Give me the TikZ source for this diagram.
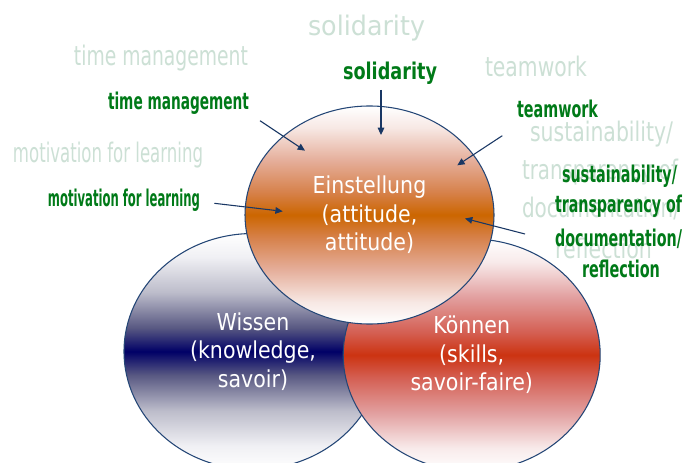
\documentclass[tikz,border=0pt]{standalone}
\usepackage{fontspec}
\setmainfont[FakeStretch=0.88]{DejaVu Sans}
\usetikzlibrary{shapes.geometric,arrows.meta}

% one drawing unit = one pixel of the 691 x 463 sheet
\newlength\pxu
\setlength\pxu{0.75pt}
% set a line of text to a given width (in pixels), keeping its height
\newcommand\fitw[2]{\resizebox{#1\pxu}{\height}{#2}}

\definecolor{rim}{RGB}{36,70,118}
\definecolor{arrowblue}{RGB}{25,55,100}
\definecolor{leafgreen}{RGB}{0,122,24}
\definecolor{ghost}{RGB}{204,224,213}

% attitude: white - salmon - orange - salmon - white
\definecolor{att1}{RGB}{247,232,228}
\definecolor{att2}{RGB}{229,174,154}
\definecolor{att3}{RGB}{214,128,72}
\definecolor{att4}{RGB}{204,102,0}
% knowledge: white - grey - navy - grey - white
\definecolor{kn1}{RGB}{240,240,244}
\definecolor{kn2}{RGB}{188,188,202}
\definecolor{kn3}{RGB}{88,88,130}
\definecolor{kn4}{RGB}{0,0,102}
% skills: white - pink - red - pink - white
\definecolor{sk1}{RGB}{248,234,234}
\definecolor{sk2}{RGB}{226,160,160}
\definecolor{sk3}{RGB}{212,96,84}
\definecolor{sk4}{RGB}{204,51,17}

\pgfdeclareverticalshading{attband}{100bp}{color(0bp)=(white); color(25bp)=(white);
  color(30bp)=(att1); color(37.5bp)=(att2); color(45bp)=(att3); color(50bp)=(att4);
  color(55bp)=(att3); color(62.5bp)=(att2); color(70bp)=(att1);
  color(75bp)=(white); color(100bp)=(white)}
\pgfdeclareverticalshading{knband}{100bp}{color(0bp)=(white); color(25bp)=(white);
  color(30bp)=(kn1); color(37.5bp)=(kn2); color(45bp)=(kn3); color(50bp)=(kn4);
  color(55bp)=(kn3); color(62.5bp)=(kn2); color(70bp)=(kn1);
  color(75bp)=(white); color(100bp)=(white)}
\pgfdeclareverticalshading{skband}{100bp}{color(0bp)=(white); color(25bp)=(white);
  color(30bp)=(sk1); color(37.5bp)=(sk2); color(45bp)=(sk3); color(50bp)=(sk4);
  color(55bp)=(sk3); color(62.5bp)=(sk2); color(70bp)=(sk1);
  color(75bp)=(white); color(100bp)=(white)}

\tikzset{
  sphere/.style={ellipse, draw=rim, line width=0.8pt, inner sep=0pt,
    text=white, align=center, font=\fontsize{17.5}{21.4}\selectfont},
  leaf/.style={anchor=base, inner sep=0pt, text=leafgreen,
    font=\bfseries\fontsize{17.3}{20}\selectfont},
  ghostword/.style={anchor=base, inner sep=0pt, text=ghost,
    font=\fontsize{20.2}{24}\selectfont},
  pointer/.style={draw=arrowblue, line width=0.8pt,
    -{Triangle[length=5.5pt,width=5pt]}}
}

\begin{document}
\begin{tikzpicture}[x=0.75pt,y=-0.75pt]
\useasboundingbox[fill=white] (0,0) rectangle (691,463);

% pale background words
\node[ghostword] (gSol)  at (366.5,36)  {\fitw{117}{solidarity}};
\node[ghostword] (gTime) at (161,65.7)  {\fitw{174}{time management}};
\node[ghostword] (gMot)  at (108,163)   {\fitw{190}{motivation for learning}};
\node[ghostword] (gTeam) at (536,77)    {\fitw{102}{teamwork}};
\node[ghostword] (gSus)  at (601.5,141.7) {\fitw{143}{sustainability/}};
\node[ghostword] (gTra)  at (600,180)   {\fitw{156}{transparency of}};
\node[ghostword] (gDoc)  at (601,218)   {\fitw{158}{documentation/}};
\node[ghostword] (gRef)  at (603.5,258) {\fitw{97}{reflection}};

% the three overlapping circles
\node[sphere, shading=knband, minimum width=193.5pt, minimum height=177pt]
  (wissen) at (253,351.5) {Wissen\\(knowledge,\\savoir)};
\node[sphere, shading=skband, minimum width=192.75pt, minimum height=174pt]
  (koennen) at (471.7,355) {Können\\(skills,\\savoir-faire)};
\node[sphere, shading=attband, minimum width=186.75pt, minimum height=163.5pt]
  (einst) at (369.5,215) {Einstellung\\(attitude,\\attitude)};

% green labels
\node[leaf] (lSol)  at (390,80)    {\fitw{94}{solidarity}};
\node[leaf] (lTime) at (178.5,110) {\fitw{141}{time management}};
\node[leaf] (lMot)  at (124,207)   {\fitw{152}{motivation for learning}};
\node[leaf] (lTeam) at (557.5,118) {\fitw{81}{teamwork}};
\node[leaf] (lSus)  at (619.5,183) {\fitw{115}{sustainability/}};
\node[leaf] (lTra)  at (618.5,213) {\fitw{127}{transparency of}};
\node[leaf] (lDoc)  at (618.5,246) {\fitw{127}{documentation/}};
\node[leaf] (lRef)  at (621,277)   {\fitw{78}{reflection}};

% arrow ends
\coordinate (solS)  at (381,90);
\coordinate (solE)  at (381,135);
\coordinate (timeS) at (260,120.7);
\coordinate (timeE) at (305,150.7);
\coordinate (motS)  at (214.3,203.3);
\coordinate (motE)  at (282.7,211.3);
\coordinate (teamS) at (502.3,135.7);
\coordinate (teamE) at (457.3,165.3);
\coordinate (susS)  at (525,234);
\coordinate (susE)  at (465,218.5);

\draw[pointer] (solS) -- (solE);
\draw[pointer] (timeS) -- (timeE);
\draw[pointer] (motS) -- (motE);
\draw[pointer] (teamS) -- (teamE);
\draw[pointer] (susS) -- (susE);
\end{tikzpicture}
\end{document}
